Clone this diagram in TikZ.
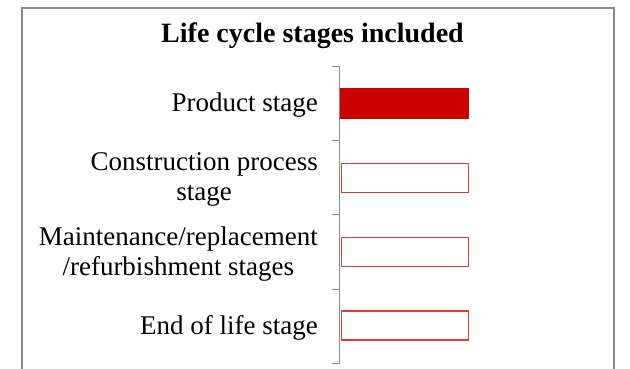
\documentclass[tikz,border=0pt]{standalone}
\usepackage{fontspec}
\setmainfont{Liberation Serif}
\definecolor{barred}{HTML}{CC0000}
\definecolor{edgered}{HTML}{E0393B}
\definecolor{axisgray}{HTML}{8C8C8C}
\begin{document}
\begin{tikzpicture}[x=1pt,y=-1pt,
  lbl/.style={anchor=east,align=center,inner sep=0pt,font=\fontsize{27}{30.5}\selectfont},
  filledbar/.style={fill=barred,draw=barred,line width=0.8pt},
  emptybar/.style={draw=edgered,line width=1.2pt,fill=white},
  axisline/.style={draw=axisgray,line width=1pt},
  frameline/.style={draw=axisgray,line width=1.5pt}]
\useasboundingbox (0,0) rectangle (630,368);
\begin{scope}
\clip (0,0) rectangle (630,368);
\draw[frameline] (22,8) rectangle (614,390);
\end{scope}
\node[inner sep=0pt,font=\bfseries\fontsize{28}{30}\selectfont] (title) at (312.5,36) {Life cycle stages included};
% axis
\coordinate (atop) at (339.5,66);
\coordinate (abot) at (339.5,363);
\draw[axisline] (atop) -- (abot);
\foreach \y/\n in {66/t0,140/t1,214/t2,289/t3,363/t4}{
  \coordinate (\n) at (331.5,\y);
  \draw[axisline] (\n) -- (339.5,\y);
}
% bars
\node[filledbar,minimum width=128pt,minimum height=30pt,anchor=west,inner sep=0pt] (b1) at (340,103) {};
\node[emptybar,minimum width=127.5pt,minimum height=29pt,anchor=west,inner sep=0pt] (b2) at (340.5,177.7) {};
\node[emptybar,minimum width=127.5pt,minimum height=29pt,anchor=west,inner sep=0pt] (b3) at (340.5,252.2) {};
\node[emptybar,minimum width=127.5pt,minimum height=29pt,anchor=west,inner sep=0pt] (b4) at (340.5,325.4) {};
% labels
\node[lbl] (l1) at (318,105) {Product stage};
\node[lbl] (l2) at (318,179.5) {Construction process\\stage};
\node[lbl] (l3) at (318,254) {Maintenance/replacement\\/refurbishment stages};
\node[lbl] (l4) at (318,327.5) {End of life stage};
\end{tikzpicture}
\end{document}
